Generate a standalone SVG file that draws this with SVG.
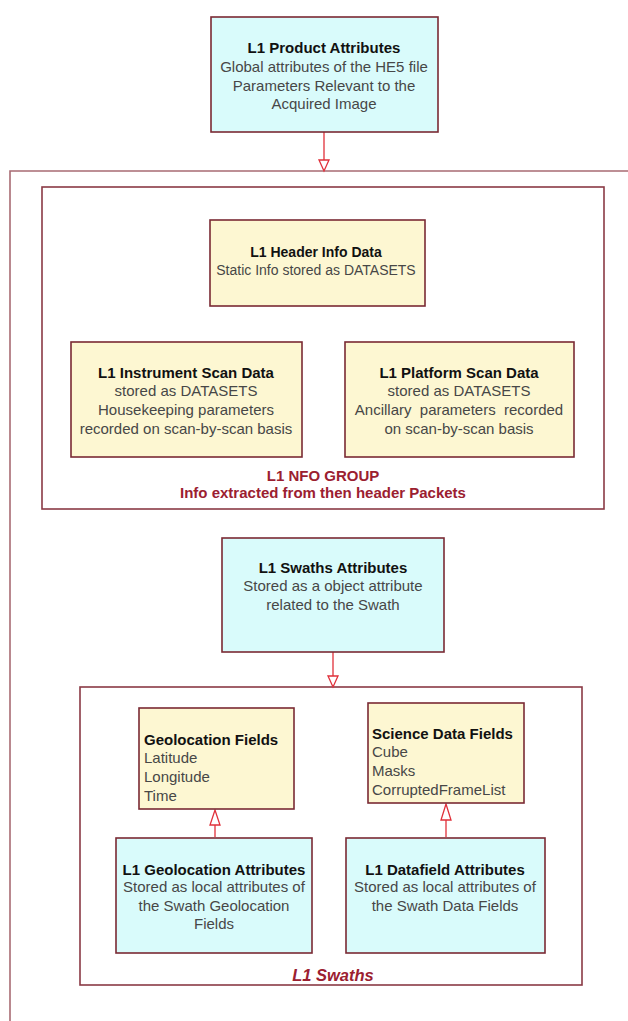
<svg xmlns="http://www.w3.org/2000/svg" width="628" height="1021" viewBox="0 0 628 1021">
<style>
text{font-family:"Liberation Sans",Arial,sans-serif;font-size:15px;fill:#474747}
.t{font-weight:bold;fill:#111}
.c{text-anchor:middle}
.cy{fill:#d9fbfb;stroke:#7a2a34;stroke-width:1.6}
.ye{fill:#fdf7d2;stroke:#7a2a34;stroke-width:1.6}
.frame{fill:none;stroke:#8a3a45;stroke-width:1.6}
.outer{fill:none;stroke:#a86b73;stroke-width:1.6}
.grp{font-weight:bold;fill:#9b2030}
.con{stroke:#e0303a;stroke-width:1.3;fill:none}
.head{fill:#fff;stroke:#e0303a;stroke-width:1.3}
#header text{font-size:14px}
</style>
<rect width="628" height="1021" fill="#fff"/>
<g id="frames">
<path class="outer" d="M640 171 H10 V1030"/>
<rect class="frame" x="42" y="187" width="562" height="322"/>
<rect class="frame" x="80" y="687" width="502" height="298"/>
<text class="grp c" x="323" y="481">L1 NFO GROUP</text>
<text class="grp c" x="323" y="498">Info extracted from then header Packets</text>
<text class="grp c" x="333" y="981" style="font-style:italic;font-size:16.5px">L1 Swaths</text>
</g>
<g id="connectors">
<line class="con" x1="324" y1="132" x2="324" y2="160"/>
<path class="head" d="M319 160 L329 160 L324 171 Z"/>
<line class="con" x1="333" y1="652" x2="333" y2="676"/>
<path class="head" d="M328 676 L338 676 L333 687 Z"/>
<line class="con" x1="215" y1="837" x2="215" y2="825"/>
<path class="head" d="M210 825 L220 825 L215 810 Z"/>
<line class="con" x1="446" y1="837" x2="446" y2="820"/>
<path class="head" d="M441 820 L451 820 L446 804 Z"/>
</g>
<g id="product">
<rect class="cy" x="211" y="17" width="227" height="115"/>
<text class="t c" x="324" y="53">L1 Product Attributes</text>
<text class="c" x="324" y="72">Global attributes of the HE5 file</text>
<text class="c" x="324" y="91">Parameters Relevant to the</text>
<text class="c" x="324" y="109">Acquired Image</text>
</g>
<g id="header">
<rect class="ye" x="210" y="220" width="215" height="86"/>
<text class="t c" x="316" y="257">L1 Header Info Data</text>
<text class="c" x="316" y="275">Static Info stored as DATASETS</text>
</g>
<g id="instrument">
<rect class="ye" x="71" y="342" width="231" height="115"/>
<text class="t c" x="186" y="378">L1 Instrument Scan Data</text>
<text class="c" x="186" y="396">stored as DATASETS</text>
<text class="c" x="186" y="415">Housekeeping parameters</text>
<text class="c" x="186" y="434">recorded on scan-by-scan basis</text>
</g>
<g id="platform">
<rect class="ye" x="345" y="342" width="229" height="115"/>
<text class="t c" x="459" y="378">L1 Platform Scan Data</text>
<text class="c" x="459" y="396">stored as DATASETS</text>
<text class="c" x="459" y="415" xml:space="preserve">Ancillary  parameters  recorded</text>
<text class="c" x="459" y="434">on scan-by-scan basis</text>
</g>
<g id="swathattr">
<rect class="cy" x="222" y="538" width="222" height="114"/>
<text class="t c" x="333" y="573">L1 Swaths Attributes</text>
<text class="c" x="333" y="591">Stored as a object attribute</text>
<text class="c" x="333" y="610">related to the Swath</text>
</g>
<g id="geofields">
<rect class="ye" x="139" y="708" width="155" height="101"/>
<text class="t" x="144" y="745">Geolocation Fields</text>
<text x="144" y="763">Latitude</text>
<text x="144" y="782">Longitude</text>
<text x="144" y="801">Time</text>
</g>
<g id="sciencefields">
<rect class="ye" x="368" y="703" width="156" height="100"/>
<text class="t" x="372" y="739">Science Data Fields</text>
<text x="372" y="757">Cube</text>
<text x="372" y="776">Masks</text>
<text x="372" y="795">CorruptedFrameList</text>
</g>
<g id="geoattr">
<rect class="cy" x="116" y="838" width="196" height="115"/>
<text class="t c" x="214" y="875">L1 Geolocation Attributes</text>
<text class="c" x="214" y="892">Stored as local attributes of</text>
<text class="c" x="214" y="911">the Swath Geolocation</text>
<text class="c" x="214" y="929">Fields</text>
</g>
<g id="dataattr">
<rect class="cy" x="346" y="838" width="199" height="115"/>
<text class="t c" x="445" y="875">L1 Datafield Attributes</text>
<text class="c" x="445" y="892">Stored as local attributes of</text>
<text class="c" x="445" y="911">the Swath Data Fields</text>
</g>
</svg>
